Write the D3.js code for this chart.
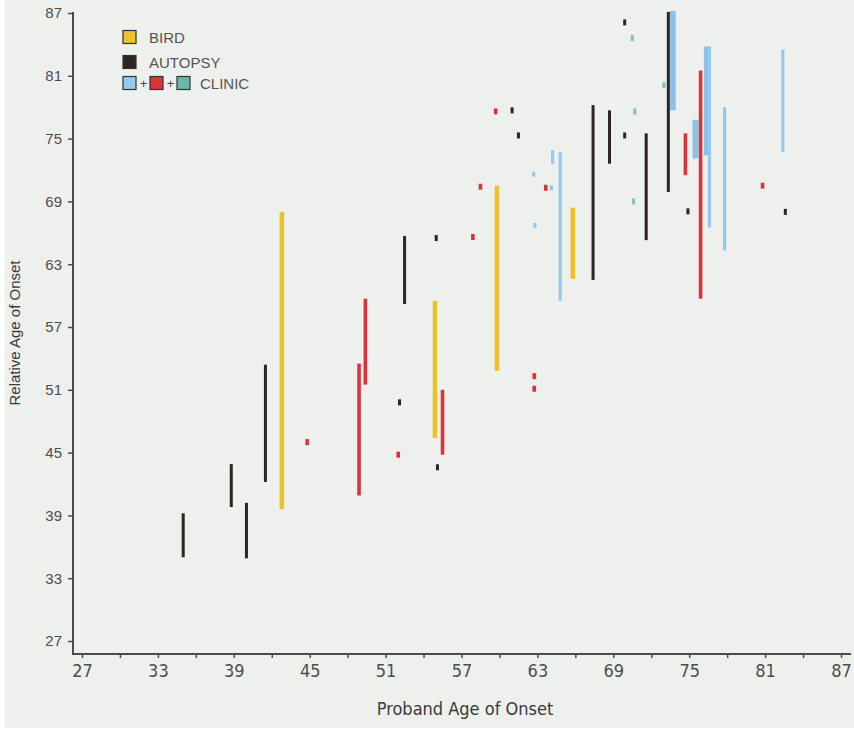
<!DOCTYPE html>
<html>
<head>
<meta charset="utf-8">
<script src="https://cdn.jsdelivr.net/npm/d3@7"></script>
<style>
  body { margin: 0; background: #fff; }
  svg { display: block; }
</style>
</head>
<body>
<div id="chart"></div>
<script>
// [proband age, relative age low, relative age high]; low == high is a single relative
const bird = [
  [42.8, 39.6, 68], [54.9, 46.4, 59.5], [59.8, 52.8, 70.5], [65.8, 61.6, 68.4]
];
const autopsy = [
  [35, 35, 39.2], [38.8, 39.8, 43.9], [40, 34.9, 40.2], [41.5, 42.2, 53.4],
  [52.5, 59.2, 65.7], [52.1, 49.8, 49.8], [55.0, 65.5, 65.5], [55.1, 43.6, 43.6],
  [61.0, 77.7, 77.7], [61.5, 75.3, 75.3], [67.4, 61.5, 78.2], [68.7, 72.6, 77.7],
  [69.9, 86.1, 86.1], [69.9, 75.3, 75.3], [71.6, 65.3, 75.5], [73.35, 69.9, 87.1],
  [74.9, 68.05, 68.05], [82.6, 68.0, 68.0]
];
const clinicRed = [
  [44.8, 46, 46], [48.9, 40.9, 53.5], [49.4, 51.5, 59.7], [52.0, 44.8, 44.8],
  [55.5, 44.8, 51], [57.9, 65.6, 65.6], [58.5, 70.4, 70.4], [59.7, 77.6, 77.6],
  [63.66, 70.3, 70.3], [62.75, 52.3, 52.3], [62.75, 51.1, 51.1],
  [74.7, 71.5, 75.5], [75.9, 59.7, 81.5], [80.8, 70.5, 70.5]
];
const clinicBlue = [
  [62.7, 71.6, 71.6], [62.8, 66.7, 66.7], [64.1, 70.3, 70.3], [64.2, 72.6, 73.9],
  [64.8, 59.5, 73.7], [76.6, 66.5, 83.8], [77.8, 64.3, 78], [82.4, 73.7, 83.5]
];
const clinicBlueBand = [
  [73.7, 77.7, 87.2], [75.5, 73.1, 76.8], [76.4, 73.4, 83.8]
];
const clinicTeal = [
  [70.5, 84.6, 84.6], [73.0, 80.1, 80.1], [70.7, 77.6, 77.6], [70.6, 69.0, 69.0]
];
const xTicks = d3.range(27, 88, 3);
const yTicks = d3.range(27, 88, 6);

const width = 854, height = 735;
const svg = d3.select("#chart").append("svg")
  .attr("width", width)
  .attr("height", height);

svg.append("rect")
  .attr("x", 5).attr("y", 0)
  .attr("width", width - 5).attr("height", 728)
  .attr("fill", "#edf0ec");

const x = d3.scaleLinear().domain([27, 87]).range([82, 841]);
const y = d3.scaleLinear().domain([27, 87]).range([641, 13]);

const axisColor = "#4a4a4a";
const labelColor = "#4d4d4d";
const narrow = "'Liberation Sans Narrow', 'DejaVu Sans Condensed', sans-serif";

// axes
svg.append("line")
  .attr("x1", 73).attr("x2", 851)
  .attr("y1", 654).attr("y2", 654)
  .attr("stroke", axisColor).attr("stroke-width", 2);
svg.append("line")
  .attr("x1", 73).attr("x2", 73)
  .attr("y1", 12).attr("y2", 655)
  .attr("stroke", axisColor).attr("stroke-width", 2);

const gx = svg.append("g")
  .attr("transform", "translate(0,654)")
  .call(d3.axisBottom(x).tickValues(xTicks).tickSize(4).tickPadding(6)
    .tickFormat(d => (d - 27) % 6 === 0 ? d : ""));
gx.select(".domain").remove();
gx.selectAll(".tick line").attr("stroke", axisColor).attr("stroke-width", 1.5);
gx.selectAll(".tick text")
  .attr("fill", labelColor)
  .attr("font-family", narrow)
  .attr("font-size", 18);

const gy = svg.append("g")
  .attr("transform", "translate(73,0)")
  .call(d3.axisLeft(y).tickValues(yTicks).tickSize(5).tickPadding(6));
gy.select(".domain").remove();
gy.selectAll(".tick line").attr("stroke", axisColor).attr("stroke-width", 1.5);
gy.selectAll(".tick text")
  .attr("fill", labelColor)
  .attr("font-family", "'Liberation Sans', Arial, sans-serif")
  .attr("font-size", 15);

svg.append("text")
  .attr("x", 465).attr("y", 715)
  .attr("text-anchor", "middle")
  .attr("fill", "#3a3a3a")
  .attr("font-family", narrow)
  .attr("font-size", 18)
  .text("Proband Age of Onset");

svg.append("text")
  .attr("transform", "translate(20,333) rotate(-90)")
  .attr("text-anchor", "middle")
  .attr("fill", "#3a3a3a")
  .attr("font-family", "'Liberation Sans', Arial, sans-serif")
  .attr("font-size", 15)
  .text("Relative Age of Onset");

// marks
function drawSeries(data, color, w, minLen) {
  svg.append("g").selectAll("rect")
    .data(data)
    .join("rect")
    .attr("x", d => x(d[0]) - w / 2)
    .attr("width", w)
    .attr("y", d => {
      const len = y(d[1]) - y(d[2]);
      return len < minLen ? (y(d[1]) + y(d[2])) / 2 - minLen / 2 : y(d[2]);
    })
    .attr("height", d => Math.max(y(d[1]) - y(d[2]), minLen))
    .attr("fill", color);
}

drawSeries(clinicBlueBand, "#8cc2ea", 6, 5);
drawSeries(clinicBlue, "#95c8ee", 3.2, 5);
drawSeries(clinicTeal, "#82c4b4", 3.2, 6);
drawSeries(autopsy, "#2e2422", 3, 6);
drawSeries(clinicRed, "#d8343c", 3.6, 6);
drawSeries(bird, "#ebc12c", 4.5, 6);

// legend
const legendRows = [
  { label: "BIRD", colors: ["#ebc12c"], cy: 37 },
  { label: "AUTOPSY", colors: ["#2e2422"], cy: 62 },
  { label: "CLINIC", colors: ["#95c8ee", "#d8343c", "#6fb5a5"], cy: 83 }
];
const legend = svg.append("g");
legendRows.forEach(row => {
  row.colors.forEach((c, i) => {
    const lx = 123 + i * 27;
    legend.append("rect")
      .attr("x", lx).attr("y", row.cy - 6.5)
      .attr("width", 13).attr("height", 13)
      .attr("fill", c)
      .attr("stroke", "#333").attr("stroke-width", 1.2);
    if (i < row.colors.length - 1) {
      legend.append("text")
        .attr("x", lx + 20.5).attr("y", row.cy + 4.5)
        .attr("text-anchor", "middle")
        .attr("fill", "#444")
        .attr("font-family", "'Liberation Sans', Arial, sans-serif")
        .attr("font-size", 13)
        .text("+");
    }
  });
  legend.append("text")
    .attr("x", 123 + row.colors.length * 27 - 1 + (row.colors.length > 1 ? -3 : 0))
    .attr("y", row.cy + 6)
    .attr("fill", "#555")
    .attr("font-family", "'Liberation Sans', Arial, sans-serif")
    .attr("font-size", 15)
    .text(row.label);
});
</script>
</body>
</html>
